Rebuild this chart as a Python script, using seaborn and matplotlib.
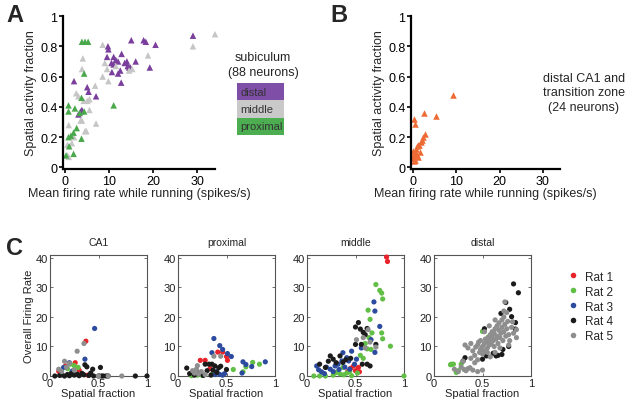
import pandas as pd
import seaborn as sns
import matplotlib.pyplot as plt
from matplotlib.lines import Line2D
from matplotlib.patches import Rectangle

# ---- panel A: subiculum (x = mean firing rate, y = spatial activity fraction)
distal_x = [2.0, 3.0, 3.5, 3.8, 5.0, 5.3, 7.0, 9.7, 9.8, 9.5, 11.0, 10.5, 11.5, 12.0, 12.8, 13.5,
            14.0, 11.0, 12.5, 12.0, 14.5, 14.2, 14.8, 12.7, 16.0, 15.0, 17.8, 18.3, 20.5, 19.2, 29.0, 10.6]
distal_y = [0.57, 0.35, 0.37, 0.38, 0.53, 0.50, 0.47, 0.80, 0.78, 0.73, 0.73, 0.69, 0.71, 0.70, 0.75, 0.69,
            0.70, 0.68, 0.64, 0.62, 0.66, 0.67, 0.66, 0.56, 0.70, 0.84, 0.84, 0.83, 0.81, 0.66, 0.87, 0.63]
middle_x = [0.5, 0.8, 0.5, 0.8, 1.5, 2.5, 3.0, 3.5, 3.8, 4.0, 3.8, 4.2, 4.5, 4.8, 5.0, 5.5,
            5.5, 6.8, 7.0, 8.5, 8.5, 9.0, 9.5, 9.8, 11.5, 14.5, 15.2, 18.8, 29.0, 34.0, 2.0]
middle_y = [0.08, 0.07, 0.15, 0.28, 0.16, 0.49, 0.47, 0.31, 0.31, 0.72, 0.65, 0.44, 0.24, 0.24, 0.44, 0.45,
            0.38, 0.54, 0.29, 0.81, 0.60, 0.69, 0.65, 0.57, 0.67, 0.64, 0.65, 0.74, 0.80, 0.88, 0.20]
proximal_x = [3.8, 4.5, 5.2, 4.3, 0.75, 0.75, 2.2, 0.75, 1.3, 1.9, 2.6, 0.9, 3.7, 1.9, 3.7, 4.3,
              11.0, 3.3, 0.2]
proximal_y = [0.83, 0.83, 0.83, 0.62, 0.41, 0.37, 0.39, 0.20, 0.21, 0.23, 0.26, 0.14, 0.19, 0.09, 0.46, 0.37,
              0.41, 0.36, 0.08]

# ---- panel B: distal CA1 and transition zone
ca1_x = [0.2, 0.45, 2.6, 5.2, 9.3, 2.8, 2.3, 1.7, 1.2, 1.0, 1.5, 1.0, 0.0, 0.45, 0.0, 0.5,
         0.0, 1.4, 2.0, 0.6, 0.1, 1.1, 0.7, 0.2]
ca1_y = [0.32, 0.29, 0.36, 0.34, 0.48, 0.22, 0.20, 0.17, 0.15, 0.14, 0.10, 0.08, 0.11, 0.10, 0.07, 0.05,
         0.06, 0.15, 0.18, 0.09, 0.09, 0.07, 0.12, 0.04]

# ---- panel C: spatial fraction vs overall firing rate, per region and rat
rats = ['Rat 1', 'Rat 2', 'Rat 3', 'Rat 4', 'Rat 5']
rat_colors = ['#e8232a', '#62bf46', '#2c4a9e', '#1b1b1b', '#8e8e8e']

c_ca1 = {
    'Rat 1': [(0.37, 11.8), (0.26, 4.5), (0.09, 1.6), (0.16, 3.4), (0.39, 0.3), (0.30, 2.0)],
    'Rat 2': [(0.21, 4.0), (0.29, 2.9), (0.22, 1.2), (0.18, 2.5), (0.25, 3.5)],
    'Rat 3': [(0.46, 16.1), (0.36, 5.7), (0.14, 2.9), (0.23, 1.7), (0.20, 4.5)],
    'Rat 4': [(0.36, 3.8), (0.38, 3.1), (0.44, 2.3), (0.52, 2.9), (0.05, 0), (0.10, 0.2), (0.15, 0),
              (0.18, 0.5), (0.22, 0.8), (0.25, 0.3), (0.28, 0.6), (0.30, 0.1), (0.33, 0.9), (0.35, 0.4),
              (0.40, 0.2), (0.45, 0), (0.50, 0), (0.53, 0), (0.55, 0), (0.58, 0), (0.60, 0), (0.88, 0),
              (1.0, 0), (0.20, 0.1), (0.12, 0.4), (0.42, 1.0)],
    'Rat 5': [(0.35, 11.0), (0.28, 8.4), (0.15, 5.0), (0.20, 4.3), (0.09, 2.3), (0.12, 1.5), (0.17, 3.0),
              (0.50, 0), (0.60, 0), (0.74, 0), (0.25, 2.0)],
}
c_proximal = {
    'Rat 1': [(0.41, 8.1), (0.46, 8.1), (0.50, 6.6), (0.51, 5.3), (0.23, 5.3), (0.28, 5.3), (0.33, 2.5)],
    'Rat 2': [(0.57, 2.2), (0.67, 1.4), (0.70, 3.1), (0.77, 4.6), (0.84, 4.0), (0.14, 0.1), (0.20, 0.3),
              (0.25, 0.2), (0.35, 0.5)],
    'Rat 3': [(0.37, 12.7), (0.43, 10.3), (0.46, 9.0), (0.51, 7.6), (0.55, 6.6), (0.35, 7.9), (0.67, 4.8),
              (0.70, 3.9), (0.76, 3.2), (0.90, 4.8), (0.66, 1.0), (0.46, 0.3), (0.40, 1.5), (0.43, 0.5),
              (0.48, 0.8), (0.38, 0.5)],
    'Rat 4': [(0.28, 4.0), (0.32, 4.0), (0.35, 4.0), (0.38, 3.4), (0.42, 2.8), (0.50, 2.2), (0.09, 2.7),
              (0.12, 0.8), (0.22, 1.0), (0.30, 1.8), (0.34, 0.3), (0.40, 1.2), (0.26, 0.2), (0.17, 0.3),
              (0.44, 3.3), (0.36, 2.0)],
    'Rat 5': [(0.37, 6.7), (0.44, 6.7), (0.19, 2.3), (0.17, 1.0), (0.21, 0.7), (0.24, 1.5), (0.15, 1.8),
              (0.28, 0.5), (0.20, 3.5)],
}
c_middle = {
    'Rat 1': [(0.82, 40.3), (0.83, 38.8), (0.53, 2.9), (0.48, 3.4), (0.45, 2.6), (0.54, 1.4), (0.42, 1.5),
              (0.50, 1.8)],
    'Rat 2': [(0.71, 31), (0.75, 29), (0.77, 28.1), (0.78, 26.1), (0.63, 22.3), (0.65, 19.2), (0.67, 14.6),
              (0.77, 14.6), (0.78, 12.6), (0.86, 10.1), (0.62, 9.2), (0.66, 9.0), (0.55, 7.0), (0.07, 0),
              (0.13, 0), (0.19, 0), (0.27, 0.3), (0.34, 0.7), (0.41, 1.0), (0.46, 0.1), (0.37, 2.9), (1.0, 0),
              (0.60, 11.0), (0.64, 13.0), (0.58, 6.0), (0.30, 1.2), (0.38, 0.4), (0.44, 1.6), (0.52, 1.0)],
    'Rat 3': [(0.69, 25.1), (0.70, 22.0), (0.75, 16.8), (0.66, 12.3), (0.46, 8.4), (0.37, 7.9), (0.41, 6.2),
              (0.36, 5.1), (0.43, 5.1), (0.32, 4.0), (0.29, 3.4), (0.10, 3.4), (0.12, 2.1), (0.15, 1.4),
              (0.24, 2.3), (0.44, 2.3), (0.49, 4.0), (0.51, 5.7), (0.20, 3.0), (0.27, 1.5), (0.56, 9.5),
              (0.70, 8.0), (0.33, 2.2), (0.39, 3.0), (0.18, 0.8)],
    'Rat 4': [(0.53, 18.1), (0.50, 16.6), (0.55, 15.9), (0.62, 16.1), (0.58, 14.8), (0.50, 10.7), (0.56, 10.7),
              (0.71, 10.7), (0.57, 4.0), (0.62, 4.0), (0.65, 3.4), (0.24, 6.8), (0.27, 5.7), (0.34, 6.8),
              (0.37, 4.6), (0.13, 4.0), (0.19, 2.9), (0.30, 4.5), (0.45, 6.0), (0.40, 5.5), (0.60, 14.0),
              (0.22, 5.0)],
    'Rat 5': [(0.63, 15.7), (0.51, 12.3), (0.71, 9.8), (0.65, 11.5), (0.58, 13.0), (0.60, 9.5)],
}
c_distal = {
    'Rat 2': [(0.56, 13.2), (0.59, 12.9), (0.50, 15.1), (0.18, 4.0), (0.20, 4.0), (0.28, 4.0), (0.23, 1.2),
              (0.25, 1.8), (0.17, 3.8)],
    'Rat 4': [(0.82, 31.2), (0.87, 28.2), (0.74, 24.9), (0.78, 22.6), (0.80, 20.1), (0.84, 18.1), (0.84, 15.9),
              (0.69, 21.2), (0.52, 16.0), (0.61, 7.7), (0.64, 6.8), (0.70, 7.3), (0.71, 9.0), (0.54, 6.8),
              (0.50, 5.7), (0.32, 6.2), (0.30, 5.1), (0.77, 10.0), (0.66, 7.0)],
    'Rat 5': [(0.21, 2.3), (0.25, 1.5), (0.28, 3.0), (0.31, 2.2), (0.33, 1.8), (0.35, 2.5), (0.37, 2.8),
              (0.40, 2.0), (0.45, 1.5), (0.50, 2.0), (0.32, 10.5), (0.35, 9.5), (0.38, 11.0), (0.40, 8.5),
              (0.42, 7.0), (0.43, 9.8), (0.45, 10.5), (0.46, 11.5), (0.47, 8.0), (0.48, 9.0), (0.48, 12.0),
              (0.50, 10.0), (0.50, 7.5), (0.52, 11.0), (0.52, 8.5), (0.53, 12.5), (0.55, 9.5), (0.55, 11.5),
              (0.56, 13.0), (0.57, 10.5), (0.58, 12.0), (0.58, 14.0), (0.59, 11.0), (0.60, 13.5), (0.60, 15.0),
              (0.61, 12.0), (0.62, 10.0), (0.62, 14.5), (0.63, 16.0), (0.64, 12.5), (0.65, 13.5), (0.65, 17.0),
              (0.66, 11.0), (0.67, 15.5), (0.67, 18.0), (0.68, 13.0), (0.69, 14.5), (0.70, 16.5), (0.70, 19.0),
              (0.71, 12.0), (0.72, 15.0), (0.72, 20.0), (0.73, 17.5), (0.74, 13.5), (0.75, 16.0), (0.75, 21.5),
              (0.76, 18.5), (0.77, 14.0), (0.78, 12.0), (0.80, 16.5), (0.81, 18.4), (0.82, 14.5), (0.85, 15.7),
              (0.85, 13.0), (0.73, 25.1), (0.68, 9.5), (0.63, 8.0), (0.58, 6.5), (0.42, 4.5), (0.38, 6.0),
              (0.30, 5.0), (0.45, 5.5), (0.55, 8.0), (0.77, 10.5), (0.72, 22.0), (0.57, 17.0), (0.63, 19.0),
              (0.52, 15.0)],
}
c_panels = [('CA1', c_ca1), ('proximal', c_proximal), ('middle', c_middle), ('distal', c_distal)]

region_colors = {'distal': '#7a3f9d', 'middle': '#c6c6c6', 'proximal': '#4aa84c'}
box_colors = {'distal': '#7f4ea6', 'middle': '#c9c9c9', 'proximal': '#4cae50'}

sns.set_style('white')
plt.rcParams['font.family'] = ['Liberation Sans', 'DejaVu Sans']

fig = plt.figure(figsize=(6.29, 4.06), dpi=100)
W, H = 629.0, 406.0


def fig_axes(left, top, right, bottom):
    return fig.add_axes([left / W, 1 - bottom / H, (right - left) / W, (bottom - top) / H])


def style_ab(ax):
    sns.despine(ax=ax)
    for s in ['left', 'bottom']:
        ax.spines[s].set_linewidth(1.6)
        ax.spines[s].set_color('black')
    ax.set_xlim(-0.5, 34)
    ax.set_ylim(-0.01, 1.0)
    ax.set_xticks([0, 10, 20, 30])
    ax.set_yticks([0, 0.2, 0.4, 0.6, 0.8, 1.0])
    ax.set_yticklabels(['0', '0.2', '0.4', '0.6', '0.8', '1'])
    ax.tick_params(direction='out', length=3, width=1.2, labelsize=9, pad=1,
                   bottom=True, left=True, colors='black')
    ax.set_xlabel('Mean firing rate while running (spikes/s)', fontsize=9, labelpad=0)
    ax.set_ylabel('Spatial activity fraction', fontsize=9, labelpad=2)


# panel A
df_a = pd.concat([
    pd.DataFrame({'rate': distal_x, 'frac': distal_y, 'region': 'distal'}),
    pd.DataFrame({'rate': middle_x, 'frac': middle_y, 'region': 'middle'}),
    pd.DataFrame({'rate': proximal_x, 'frac': proximal_y, 'region': 'proximal'}),
])
ax_a = fig_axes(63, 17, 215, 170)
sns.scatterplot(data=df_a, x='rate', y='frac', hue='region', palette=region_colors, marker='^',
                s=22, linewidth=0, legend=False, ax=ax_a, clip_on=False)
style_ab(ax_a)

fig.text(263 / W, 1 - 58 / H, 'subiculum', ha='center', va='center', fontsize=9)
fig.text(263 / W, 1 - 73 / H, '(88 neurons)', ha='center', va='center', fontsize=9)
for i, name in enumerate(['distal', 'middle', 'proximal']):
    top = 84 + i * 17.3
    fig.add_artist(Rectangle((237 / W, 1 - (top + 17.3) / H), 47 / W, 17.3 / H,
                             transform=fig.transFigure, facecolor=box_colors[name], edgecolor='none'))
    fig.text(240 / W, 1 - (top + 8.6) / H, name, ha='left', va='center', fontsize=8, color='#333333')

# panel B
df_b = pd.DataFrame({'rate': ca1_x, 'frac': ca1_y})
ax_b = fig_axes(411, 17, 560, 170)
sns.scatterplot(data=df_b, x='rate', y='frac', color='#ee6a35', marker='^', s=22, linewidth=0,
                ax=ax_b, clip_on=False)
style_ab(ax_b)
for txt, y in [('distal CA1 and', 79), ('transition zone', 93), ('(24 neurons)', 108)]:
    fig.text(584 / W, 1 - y / H, txt, ha='center', va='center', fontsize=9)

# panel C
lefts = [50, 178, 307, 434]
for k, (title, data) in enumerate(c_panels):
    rows = []
    for rat, pts in data.items():
        for x, y in pts:
            rows.append({'frac': x, 'rate': y, 'rat': rat})
    df_c = pd.DataFrame(rows)
    ax = fig_axes(lefts[k], 256, lefts[k] + 97, 377)
    sns.scatterplot(data=df_c, x='frac', y='rate', hue='rat', hue_order=rats,
                    palette=dict(zip(rats, rat_colors)), s=14, linewidth=0, legend=False,
                    ax=ax, clip_on=False, zorder=3)
    ax.set_xlim(0, 1)
    ax.set_ylim(0, 41)
    ax.set_xticks([0, 0.5, 1])
    ax.set_xticklabels(['0', '0.5', '1'])
    ax.set_yticks([0, 10, 20, 30, 40])
    for s in ax.spines.values():
        s.set_color('#555555')
        s.set_linewidth(0.8)
    ax.tick_params(direction='in', length=2, width=0.6, labelsize=8, pad=1.5,
                   top=True, right=True, bottom=True, left=True, colors='#555555',
                   labelcolor='#222222')
    ax.set_title(title, fontsize=7.5, pad=7, color='#222222')
    ax.set_xlabel('Spatial fraction', fontsize=8, labelpad=0, color='#222222')
    ax.set_ylabel('Overall Firing Rate' if k == 0 else '', fontsize=8, labelpad=1, color='#222222')

handles = [Line2D([], [], marker='o', linestyle='', markersize=4, markerfacecolor=c,
                  markeredgewidth=0) for c in rat_colors]
fig.legend(handles, rats, loc='upper left', bbox_to_anchor=(555 / W, 1 - 261 / H), frameon=False,
           fontsize=8.5, handletextpad=0.4, labelspacing=0.25, handlelength=1.2)

for letter, x, y in [('A', 6, 16), ('B', 330, 16), ('C', 6, 249)]:
    fig.text(x / W, 1 - y / H, letter, fontsize=17, fontweight='bold', ha='left', va='center')

fig.savefig('out.png', dpi=100)
